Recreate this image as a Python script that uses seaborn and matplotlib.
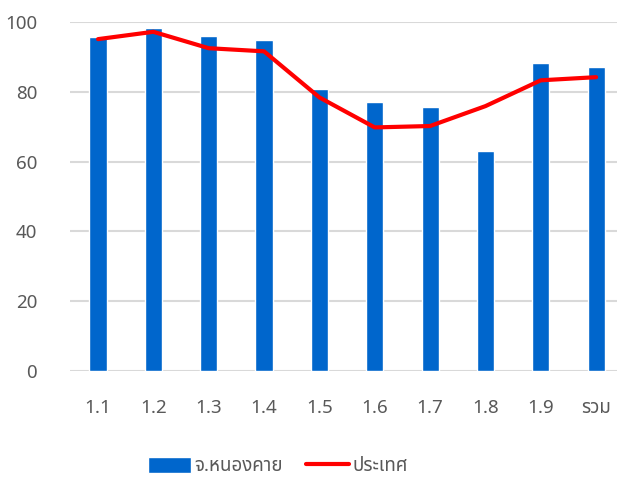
import matplotlib
matplotlib.use("Agg")
import matplotlib.pyplot as plt
import seaborn as sns
import pandas as pd

categories = ["1.1", "1.2", "1.3", "1.4", "1.5", "1.6", "1.7", "1.8", "1.9", "รวม"]
nongkhai = [95.6, 98.3, 96.1, 94.8, 80.7, 77.1, 75.7, 63.1, 88.3, 87.0]
country = [95.1, 97.2, 92.5, 91.6, 78.4, 69.8, 70.2, 75.9, 83.3, 84.2]

df = pd.DataFrame({"cat": categories, "bar": nongkhai, "line": country})

sns.set_style("white")
plt.rcParams["font.family"] = ["Noto Sans Thai", "Noto Sans", "DejaVu Sans"]

fig, ax = plt.subplots(figsize=(6.17, 4.79), dpi=100)
fig.subplots_adjust(left=0.114, right=1.011, top=0.954, bottom=0.2255)

sns.barplot(data=df, x="cat", y="bar", color="#0066CC", saturation=1,
            width=0.31, ax=ax, label="จ.หนองคาย", zorder=2)
sns.lineplot(x=range(len(categories)), y=country, color="#FF0000",
             linewidth=3, ax=ax, label="ประเทศ", zorder=3)

ax.set_xlim(-0.5, len(categories) - 0.5)
ax.set_ylim(0, 100)
ax.set_yticks(range(0, 101, 20))
ax.grid(axis="y", color="#D9D9D9", linewidth=1.5, zorder=0)
ax.set_axisbelow(True)
sns.despine(ax=ax, left=True, bottom=True)
ax.set_xlabel("")
ax.set_ylabel("")
ax.tick_params(axis="both", length=0, labelsize=13.5, labelcolor="#595959")
ax.tick_params(axis="x", pad=20)
ax.tick_params(axis="y", pad=24)

handles, labels = ax.get_legend_handles_labels()
if ax.legend_:
    ax.legend_.remove()
order = [labels.index("จ.หนองคาย"), labels.index("ประเทศ")]
fig.legend([handles[i] for i in order], [labels[i] for i in order],
           loc="center", bbox_to_anchor=(278 / 617, 1 - 466 / 479), ncol=2,
           frameon=False, fontsize=13.5, labelcolor="#595959",
           handlelength=2.3, handleheight=1.0, handletextpad=0.2,
           columnspacing=1.2)

fig.savefig("out.png")
